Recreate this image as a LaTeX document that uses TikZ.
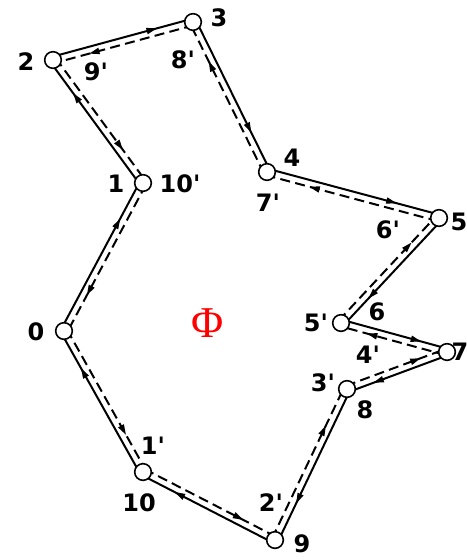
\documentclass[tikz,border=0pt]{standalone}
\usepackage{fontspec}
\newfontfamily\labfont{DejaVu Sans}
\newfontfamily\phifont{Liberation Serif}
\usetikzlibrary{calc,decorations.markings,arrows.meta}
\tikzset{
  vtx/.style={circle,draw=black,fill=white,line width=1.2pt,minimum size=12.5pt,inner sep=0pt},
  lab/.style={font=\labfont\bfseries\fontsize{18}{20}\selectfont,inner sep=0pt},
  pathline/.style={line width=1.5pt,black},
  tipmark/.style={postaction={decorate},decoration={markings,mark=at position 0.75 with {\arrow{Triangle[length=8pt,width=4.5pt]}}}},
  solidline/.style={pathline,tipmark},
  dashline/.style={pathline,dash pattern=on 7.5pt off 4pt,tipmark},
}
\begin{document}
\begin{tikzpicture}[x=0.75pt,y=-0.75pt]
\useasboundingbox (0,0) rectangle (467,560);
% vertex positions
\coordinate (p0) at (64,331);
\coordinate (p1) at (143,183);
\coordinate (p2) at (53,60);
\coordinate (p3) at (193,22);
\coordinate (p4) at (267,172);
\coordinate (p5) at (439,218);
\coordinate (p6) at (341,323);
\coordinate (p7) at (447,352);
\coordinate (p8) at (347,389);
\coordinate (p9) at (275,540);
\coordinate (p10) at (143,472);
\def\off{2.5pt}
% solid path 0->1->...->10->0 (outer), dashed reverse path (inner)
\foreach \a/\b in {0/1,1/2,2/3,3/4,4/5,5/6,6/7,7/8,8/9,9/10,10/0}{
  \draw[solidline] ($(p\a)!\off!90:(p\b)$) -- ($(p\b)!\off!-90:(p\a)$);
  \draw[dashline] ($(p\b)!\off!90:(p\a)$) -- ($(p\a)!\off!-90:(p\b)$);
}
% vertices
\foreach \i in {0,...,10}{ \node[vtx] (v\i) at (p\i) {}; }
% labels
\node[lab] (l0) at (36,332) {0};
\node[lab] (l1) at (116,184) {1};
\node[lab] (l10p) at (180,184) {10'};
\node[lab] (l2) at (26,62) {2};
\node[lab] (l9p) at (96,72) {9'};
\node[lab] (l3) at (219,18) {3};
\node[lab] (l8p) at (183,60) {8'};
\node[lab] (l4) at (292,158) {4};
\node[lab] (l7p) at (268,203) {7'};
\node[lab] (l5) at (459,222) {5};
\node[lab] (l6p) at (388,230) {6'};
\node[lab] (l5p) at (316,323) {5'};
\node[lab] (l6) at (377,312) {6};
\node[lab] (l7) at (460,352) {7};
\node[lab] (l4p) at (368,355) {4'};
\node[lab] (l3p) at (323,383) {3'};
\node[lab] (l8) at (365,410) {8};
\node[lab] (l2p) at (271,503) {2'};
\node[lab] (l9) at (302,544) {9};
\node[lab] (l1p) at (153,446) {1'};
\node[lab] (l10) at (139,503) {10};
\node[text=red,font=\phifont\fontsize{33}{35}\selectfont,inner sep=0pt] (phi) at (208,323) {Φ};
\end{tikzpicture}
\end{document}
